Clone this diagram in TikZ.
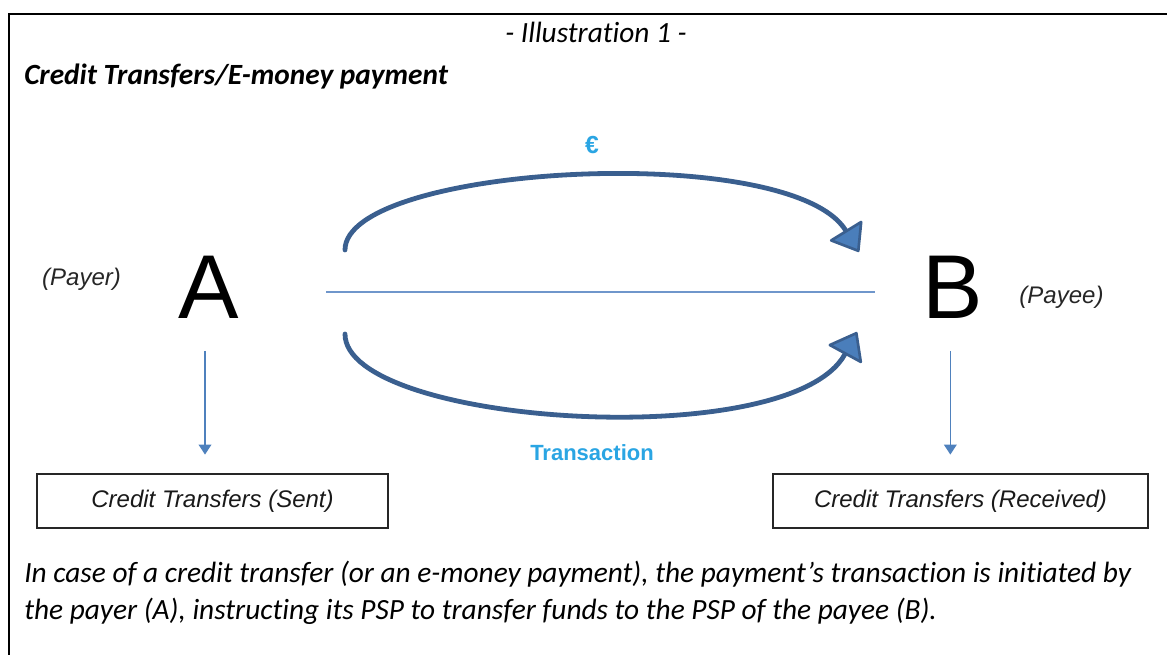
\documentclass[tikz,border=0pt]{standalone}
\usepackage{fontspec}
\setmainfont{Carlito}[Ligatures={TeX,NoCommon}]
\newfontfamily\arialfont{Liberation Sans}
\usetikzlibrary{arrows.meta, positioning}

\definecolor{arcblue}{HTML}{3A5F8F}
\definecolor{headblue}{HTML}{4A7EBB}
\definecolor{lineblue}{HTML}{6F96CB}
\definecolor{thinblue}{HTML}{4F81BD}
\definecolor{textblue}{HTML}{2AA5E3}
\definecolor{boxgray}{HTML}{262626}

\begin{document}
\begin{tikzpicture}[x=0.75pt, y=-0.75pt,
  flux/.style={line width=3.6pt, draw=arcblue, line cap=round,
    -{Triangle[length=20pt, width=30pt, fill=headblue, line width=2pt, round]}},
  descente/.style={line width=1.1pt, draw=thinblue,
    -{Triangle[length=7.5pt, width=9.5pt]}},
  partie/.style={inner sep=0pt, font=\arialfont\fontsize{68pt}{70pt}\selectfont},
  role/.style={font=\arialfont\itshape\fontsize{18pt}{20pt}\selectfont, text=black!85},
  flux label/.style={font=\arialfont\bfseries\fontsize{16.5pt}{18pt}\selectfont, text=textblue},
  compte/.style={draw=boxgray, line width=1.1pt, minimum height=40.5pt, inner sep=0pt,
    font=\arialfont\itshape\fontsize{18pt}{20pt}\selectfont, text=black!90},
  texte/.style={anchor=base west, inner sep=0pt,
    font=\fontsize{22pt}{26pt}\selectfont\itshape}]
  \useasboundingbox (0,0) rectangle (1167,655);
  % Cadre
  \draw[line width=1.5pt] (1167,14.3) -- (9,14.3) -- (9,655);
  % Titres
  \node[texte, anchor=base] (illus) at (596,43) {- Illustration 1 -};
  \node[texte, font=\fontsize{22pt}{26pt}\selectfont\itshape\bfseries] (titre) at (24,85)
    {Credit Transfers/E-money payment};
  % Payeur et bénéficiaire
  \node[partie] (A) at (209,287.5) {A};
  \node[partie] (B) at (953,287.5) {B};
  \node[role] (payer) at (81.5,279) {(Payer)};
  \node[role] (payee) at (1061.5,297) {(Payee)};
  \draw[lineblue, line width=1.5pt, shorten <=65pt, shorten >=35.5pt]
    ([yshift=-3.4pt]A.east) -- ([yshift=-3.4pt]B.west);
  % Flux euro (haut) et transaction (bas)
  \coordinate (eurostart) at (345,250);
  \coordinate (eurotip) at (859,252);
  \coordinate (trxstart) at (345,334);
  \coordinate (trxtip) at (857,332);
  \draw[flux] (eurostart) .. controls (345,165) and (790,140) .. (eurotip);
  \draw[flux] (trxstart) .. controls (345,425) and (790,455) .. (trxtip);
  \node[flux label, font=\arialfont\bfseries\fontsize{18.5pt}{20pt}\selectfont] (euro) at (592,145) {€};
  \node[flux label] (trx) at (592,453) {Transaction};
  % Comptes
  \node[compte, minimum width=263pt] (sent) at (212.5,501) {Credit Transfers (Sent)};
  \node[compte, minimum width=281pt] (recv) at (960.5,501) {Credit Transfers (Received)};
  \draw[descente, shorten <=24pt, shorten >=14pt]
    ([xshift=-3pt]A.south) -- ([xshift=-3pt]A.south |- sent.north);
  \draw[descente, shorten <=24pt, shorten >=14pt]
    ([xshift=-2pt]B.south) -- ([xshift=-2pt]B.south |- recv.north);
  % Texte explicatif
  \node[texte] (ligne1) at (24,582)
    {In case of a credit transfer (or an e-money payment), the payment’s transaction is initiated by};
  \node[texte] (ligne2) at (24,619)
    {the payer (A), instructing its PSP to transfer funds to the PSP of the payee (B).};
\end{tikzpicture}
\end{document}
